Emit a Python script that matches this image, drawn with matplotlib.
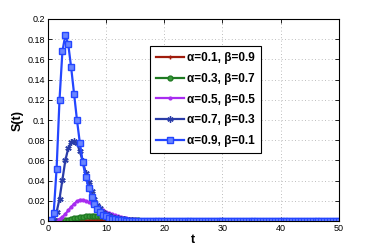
import matplotlib
matplotlib.use("Agg")
import matplotlib.pyplot as plt
import numpy as np

plt.rcParams['font.family'] = ['Liberation Sans', 'DejaVu Sans']

# time samples (step 0.5)
t = np.arange(0, 50.5, 0.5)

s_a01 = [0, 0, 0, 0, 0, 0, 0.0001, 0.0001, 0.0002, 0.0002,
         0.0003, 0.0004, 0.0005, 0.0006, 0.0007, 0.0008, 0.0008, 0.0009, 0.0009, 0.001,
         0.001, 0.001, 0.001, 0.0009, 0.0009, 0.0009, 0.0008, 0.0008, 0.0007, 0.0007,
         0.0006, 0.0006, 0.0005, 0.0005, 0.0005, 0.0004, 0.0004, 0.0004, 0.0003, 0.0003,
         0.0003, 0.0003, 0.0002, 0.0002, 0.0002, 0.0002, 0.0002, 0.0002, 0.0002, 0.0002,
         0.0002, 0.0002, 0.0001, 0.0001, 0.0001, 0.0001, 0.0001, 0.0001, 0.0001, 0.0001,
         0.0001, 0.0001, 0.0001, 0.0001, 0.0001, 0.0001, 0.0001, 0.0001, 0.0001, 0.0001,
         0, 0, 0, 0, 0, 0, 0, 0, 0, 0,
         0, 0, 0, 0, 0, 0, 0, 0, 0, 0,
         0, 0, 0, 0, 0, 0, 0, 0, 0, 0,
         0]

s_a03 = [0, 0, 0, 0.0001, 0.0003, 0.0006, 0.001, 0.0015, 0.002, 0.0026,
         0.0032, 0.0038, 0.0043, 0.0048, 0.0052, 0.0054, 0.0055, 0.0054, 0.0051, 0.0046,
         0.0041, 0.0036, 0.0031, 0.0026, 0.0022, 0.0019, 0.0016, 0.0013, 0.0011, 0.0009,
         0.0008, 0.0007, 0.0006, 0.0005, 0.0004, 0.0004, 0.0003, 0.0003, 0.0003, 0.0002,
         0.0002, 0.0002, 0.0002, 0.0001, 0.0001, 0.0001, 0.0001, 0.0001, 0.0001, 0.0001,
         0.0001, 0.0001, 0, 0, 0, 0, 0, 0, 0, 0,
         0, 0, 0, 0, 0, 0, 0, 0, 0, 0,
         0, 0, 0, 0, 0, 0, 0, 0, 0, 0,
         0, 0, 0, 0, 0, 0, 0, 0, 0, 0,
         0, 0, 0, 0, 0, 0, 0, 0, 0, 0,
         0]

s_a05 = [0, 0, 0.0002, 0.0008, 0.002, 0.004, 0.007, 0.0105, 0.014, 0.017,
         0.0195, 0.021, 0.021, 0.020, 0.0187, 0.0172, 0.0155, 0.0137, 0.012, 0.0105,
         0.009, 0.0078, 0.0067, 0.0057, 0.0048, 0.0041, 0.0034, 0.0029, 0.0024, 0.002,
         0.0017, 0.0014, 0.0012, 0.001, 0.0008, 0.0007, 0.0005, 0.0004, 0.0003, 0.0003,
         0.0002, 0.0002, 0.0001, 0.0001, 0.0001, 0.0001, 0, 0, 0, 0,
         0, 0, 0, 0, 0, 0, 0, 0, 0, 0,
         0, 0, 0, 0, 0, 0, 0, 0, 0, 0,
         0, 0, 0, 0, 0, 0, 0, 0, 0, 0,
         0, 0, 0, 0, 0, 0, 0, 0, 0, 0,
         0, 0, 0, 0, 0, 0, 0, 0, 0, 0,
         0]

s_a07 = [0, 0, 0.001, 0.009, 0.022, 0.041, 0.060, 0.072, 0.078, 0.079,
         0.077, 0.069, 0.059, 0.048, 0.039, 0.030, 0.022, 0.016, 0.0125, 0.0095,
         0.0075, 0.0058, 0.0045, 0.0035, 0.0027, 0.0021, 0.0016, 0.0012, 0.0009, 0.0007,
         0.0005, 0.0004, 0.0003, 0.0002, 0.0002, 0.0001, 0.0001, 0.0001, 0, 0,
         0, 0, 0, 0, 0, 0, 0, 0, 0, 0,
         0, 0, 0, 0, 0, 0, 0, 0, 0, 0,
         0, 0, 0, 0, 0, 0, 0, 0, 0, 0,
         0, 0, 0, 0, 0, 0, 0, 0, 0, 0,
         0, 0, 0, 0, 0, 0, 0, 0, 0, 0,
         0, 0, 0, 0, 0, 0, 0, 0, 0, 0,
         0]

s_a09 = [0, 0.001, 0.008, 0.052, 0.120, 0.168, 0.184, 0.175, 0.152, 0.126,
         0.100, 0.077, 0.058, 0.044, 0.033, 0.024, 0.017, 0.012, 0.009, 0.0065,
         0.0047, 0.0034, 0.0025, 0.0018, 0.0013, 0.0009, 0.0007, 0.0005, 0.0004, 0.0003,
         0.0002, 0.00015, 0.0001, 0.0001, 0.0001, 0, 0, 0, 0, 0,
         0, 0, 0, 0, 0, 0, 0, 0, 0, 0,
         0, 0, 0, 0, 0, 0, 0, 0, 0, 0,
         0, 0, 0, 0, 0, 0, 0, 0, 0, 0,
         0, 0, 0, 0, 0, 0, 0, 0, 0, 0,
         0, 0, 0, 0, 0, 0, 0, 0, 0, 0,
         0, 0, 0, 0, 0, 0, 0, 0, 0, 0,
         0]

labels = ["α=0.1, β=0.9", "α=0.3, β=0.7", "α=0.5, β=0.5",
          "α=0.7, β=0.3", "α=0.9, β=0.1"]
series = [s_a01, s_a03, s_a05, s_a07, s_a09]
colors = ["#a01c0c", "#1f7a22", "#a82cf0", "#2a3ca8", "#2446ff"]
markers = ["+", "o", ".", (6, 2, 0), "s"]
msizes = [3.5, 3.5, 4, 4.5, 4]
faces = ["#a01c0c", "#3a9a3a", "#a82cf0", "#2a3ca8", "#6a86ff"]

fig = plt.figure(figsize=(3.74, 2.49), dpi=100)
ax = fig.add_axes([0.128, 0.112, 0.778, 0.812])

for y, lab, c, m, ms, fc in zip(series, labels, colors, markers, msizes, faces):
    ax.plot(t, y, color=c, marker=m, markersize=ms, markerfacecolor=fc,
            markeredgecolor=c, markeredgewidth=1.0, linewidth=1.6, label=lab)

ax.set_xlim(0, 50)
ax.set_ylim(0, 0.2)
ax.set_xticks([0, 10, 20, 30, 40, 50])
ax.set_yticks(np.arange(0, 0.201, 0.02))
ax.set_yticklabels(["0", "0.02", "0.04", "0.06", "0.08", "0.1", "0.12",
                    "0.14", "0.16", "0.18", "0.2"])
ax.tick_params(direction="in", labelsize=6.5, length=3, width=0.6,
               top=True, right=True, pad=2)
ax.grid(True, linestyle=(0, (1, 3)), color="#a8a8a8", linewidth=0.6)
for sp in ax.spines.values():
    sp.set_linewidth(0.8)

ax.set_xlabel("t", fontsize=9, fontweight="bold", labelpad=1)
ax.set_ylabel("S(t)", fontsize=9, fontweight="bold", labelpad=3)

leg = ax.legend(loc="upper left", bbox_to_anchor=(0.35, 0.866), borderaxespad=0,
                prop={"weight": "bold", "size": 8.5}, handlelength=2.4,
                labelspacing=0.75, fancybox=False, framealpha=1,
                edgecolor="black", handletextpad=0.3, borderpad=0.5)
leg.get_frame().set_linewidth(0.8)

fig.savefig("out.png", dpi=100)
